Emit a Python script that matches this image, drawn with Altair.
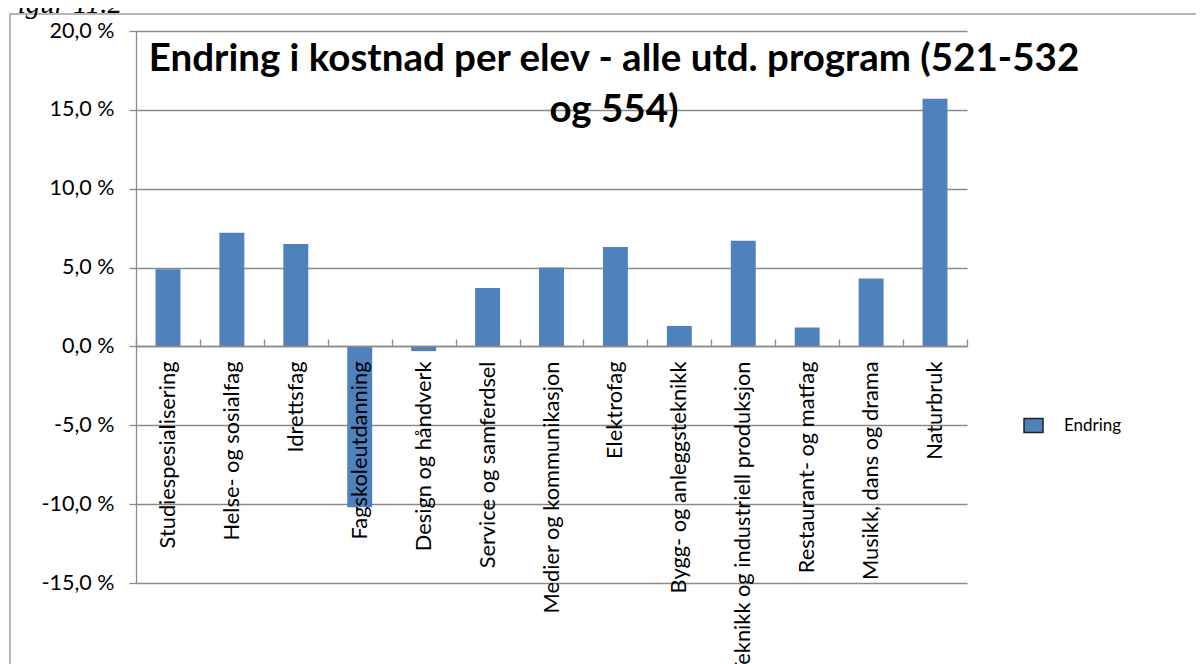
import altair as alt
import pandas as pd

categories = [
    "Studiespesialisering", "Helse- og sosialfag", "Idrettsfag", "Fagskoleutdanning",
    "Design og håndverk", "Service og samferdsel", "Medier og kommunikasjon", "Elektrofag",
    "Bygg- og anleggsteknikk", "Teknikk og industriell produksjon", "Restaurant- og matfag",
    "Musikk, dans og drama", "Naturbruk",
]
values = [4.9, 7.2, 6.5, -10.2, -0.3, 3.7, 5.0, 6.3, 1.3, 6.7, 1.2, 4.3, 15.7]
series_name = "Endring"
y_ticks = [-15, -10, -5, 0, 5, 10, 15, 20]
title_lines = ["Endring i kostnad per elev - alle utd. program (521-532", "og 554)"]
figure_label = "Figur 11.2"

df = pd.DataFrame({"program": categories, "endring": values, "serie": series_name})
one = pd.DataFrame({"k": [0]})

W, H = 831, 552
GRID = "#8a8a8a"
BAR = "#4f81bd"
FONT = "Lato"

x_scale = alt.Scale(domain=categories, paddingInner=0, paddingOuter=0)
y_scale = alt.Scale(domain=[-15, 20], nice=False, zero=False)
label_expr = "(datum.value < 0 ? '-' : '') + replace(format(abs(datum.value), '.1f'), '.', ',') + ' %'"

frame = alt.Chart(one).mark_rect(fill="white", fillOpacity=0, stroke="#a0a0a0", strokeWidth=1.5).encode(
    x=alt.value(-126), x2=alt.value(1120), y=alt.value(-17), y2=alt.value(720)
)

bars = alt.Chart(df).mark_bar(width=alt.RelativeBandSize(0.39)).encode(
    x=alt.X("program:N", sort=categories, scale=x_scale,
            axis=alt.Axis(orient="bottom", offset=-237, title=None, labelAngle=-90,
                          labelPadding=15, ticks=False, domain=True, domainColor=GRID,
                          domainWidth=1.3, labelLimit=0, labelFont=FONT, labelFontSize=21.8,
                          labelColor="black", grid=False, zindex=1)),
    y=alt.Y("endring:Q", scale=y_scale,
            axis=alt.Axis(values=y_ticks, labelExpr=label_expr, title=None, grid=True,
                          gridColor=GRID, gridWidth=1.3, tickColor=GRID, tickWidth=1.3,
                          tickSize=7, domainColor=GRID, domainWidth=1.3, labelFont=FONT,
                          labelFontSize=21.5, labelColor="black", labelPadding=15, zindex=0)),
    color=alt.Color("serie:N", scale=alt.Scale(domain=[series_name], range=[BAR]),
                    legend=alt.Legend(title=None, orient="none", legendX=887, legendY=384,
                                      symbolType="M-1,-0.74H1V0.74H-1Z", symbolSize=361,
                                      symbolStrokeColor="#222222", symbolStrokeWidth=1.5,
                                      labelOffset=20, labelFont=FONT, labelFontSize=17,
                                      labelColor="black", padding=0)),
)

ticks = alt.Chart(df).mark_point(opacity=0).encode(
    x=alt.X("program:N", sort=categories, scale=x_scale,
            axis=alt.Axis(orient="top", offset=-315, title=None, labels=False, domain=False,
                          ticks=True, tickBand="extent", tickSize=7, tickColor=GRID,
                          tickWidth=1.3, grid=False, zindex=1)),
)

title1 = alt.Chart(one).mark_text(font=FONT, fontSize=38.5, fontWeight="bold", color="black",
                                  align="center", baseline="alphabetic").encode(
    x=alt.value(478), y=alt.value(40), text=alt.value(title_lines[0])
)
title2 = alt.Chart(one).mark_text(font=FONT, fontSize=38.5, fontWeight="bold", color="black",
                                  align="center", baseline="alphabetic").encode(
    x=alt.value(478), y=alt.value(91), text=alt.value(title_lines[1])
)
figtext = alt.Chart(one).mark_text(font="Liberation Serif", fontSize=29, fontStyle="italic",
                                   color="black", align="left", baseline="alphabetic").encode(
    x=alt.value(-136), y=alt.value(-18), text=alt.value(figure_label)
)

chart = alt.layer(frame, bars, ticks, title1, title2, figtext).resolve_axis(x="independent").properties(
    width=W, height=H,
    autosize=alt.AutoSizeParams(type="none"),
    padding={"left": 128, "top": 23, "right": 229, "bottom": 100},
    background="white",
).configure_view(stroke=None)

chart.save("out.html", embed_options={"renderer": "svg", "actions": False})
